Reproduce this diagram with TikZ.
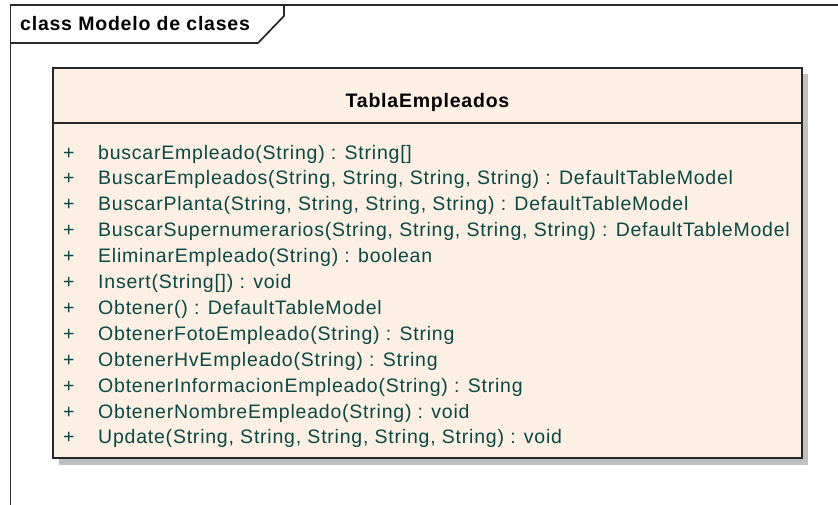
\documentclass[tikz,border=0pt]{standalone}
\usepackage{fontspec}
\setmainfont{Liberation Sans}[LetterSpace=4.0]
\definecolor{boxfill}{RGB}{251,240,227}
\definecolor{optext}{RGB}{10,72,68}
\definecolor{shadowgray}{RGB}{192,192,192}
\definecolor{framegray}{RGB}{40,40,40}
\tikzset{
  txt/.style={inner sep=0pt, anchor=base west, font=\fontsize{19.5}{23}\selectfont},
  optxt/.style={txt, text=optext},
  boldtxt/.style={inner sep=0pt, anchor=base, font=\fontsize{19.5}{23}\selectfont\bfseries},
  frameline/.style={draw=framegray, line width=1.7pt},
  classbox/.style={draw=black!85, line width=1.8pt, fill=boxfill, minimum width=749pt, minimum height=390pt, inner sep=0pt},
}
\begin{document}
\begin{tikzpicture}[x=1pt,y=-1pt]
\useasboundingbox (0,0) rectangle (838,504);
% frame
\coordinate (fTL) at (10.5,5);
\coordinate (fTR) at (845,5);
\coordinate (fBL) at (10.5,512);
\draw[frameline] (fTR) -- (fTL) -- (fBL);
\coordinate (t1) at (284,5);
\coordinate (t2) at (284,16);
\coordinate (t3) at (258,43);
\coordinate (t4) at (10.5,43);
\draw[frameline, line join=miter] (t1) -- (t2) -- (t3) -- (t4);
\node[inner sep=0pt, anchor=base west, font=\fontsize{19.5}{23}\selectfont\bfseries] (title) at (20,30) {class Modelo de clases};
% class box
\fill[shadowgray] (59,74) rectangle (808,465);
\node[classbox] (cls) at (427.5,263) {};
\draw[draw=black!85, line width=1.6pt] (cls.west |- 0,123) -- (cls.east |- 0,123);
\node[boldtxt] (cname) at (427.5,107) {TablaEmpleados};
% operations
\foreach \i/\t in {0/{buscarEmpleado(String) : String[]},
  1/{BuscarEmpleados(String, String, String, String) : DefaultTableModel},
  2/{BuscarPlanta(String, String, String, String) : DefaultTableModel},
  3/{BuscarSupernumerarios(String, String, String, String) : DefaultTableModel},
  4/{EliminarEmpleado(String) : boolean},
  5/{Insert(String[]) : void},
  6/{Obtener() : DefaultTableModel},
  7/{ObtenerFotoEmpleado(String) : String},
  8/{ObtenerHvEmpleado(String) : String},
  9/{ObtenerInformacionEmpleado(String) : String},
  10/{ObtenerNombreEmpleado(String) : void},
  11/{Update(String, String, String, String, String) : void}}{
  \node[optxt] (vis\i) at (63,159+25.9*\i) {+};
  \node[optxt] (op\i) at (98,159+25.9*\i) {\t};
}
\end{tikzpicture}
\end{document}
